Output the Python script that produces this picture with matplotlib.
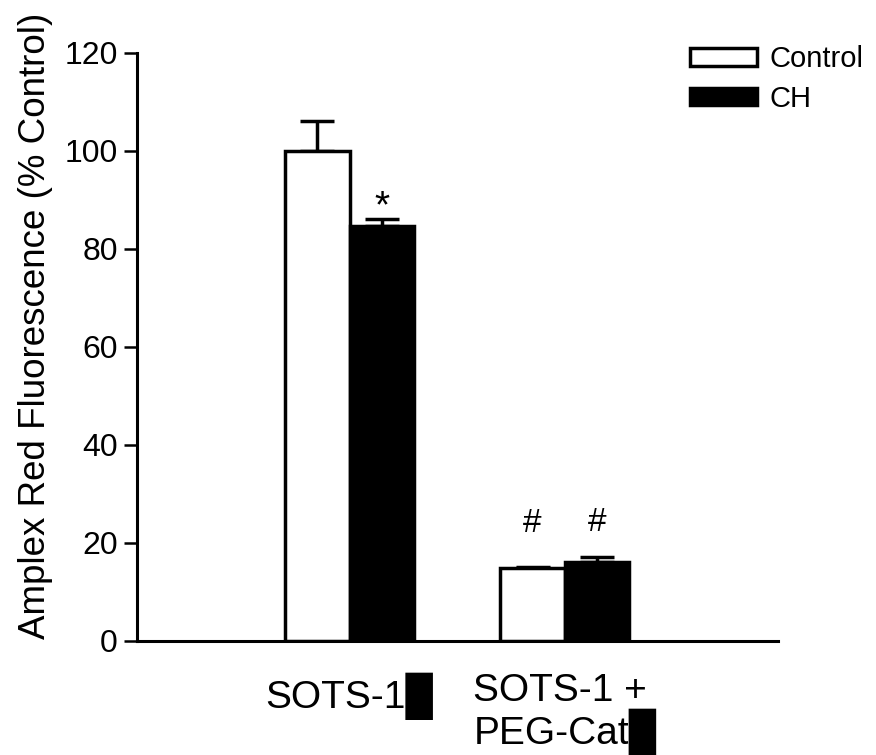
import numpy as np
import matplotlib.pyplot as plt
from matplotlib.patches import Patch

plt.rcParams['font.family'] = ['Liberation Sans', 'DejaVu Sans']

# data
groups = ['SOTS-1\u2588', 'SOTS-1 +\nPEG-Cat\u2588']
control_mean = [100.0, 14.8]
control_err = [6.0, 0.3]
ch_mean = [84.6, 16.1]
ch_err = [1.6, 1.0]
series_names = ['Control', 'CH']

x = np.arange(len(groups))
w = 0.3

fig = plt.figure(figsize=(8.76, 7.55), dpi=100)
ax = fig.add_axes([0.156, 0.151, 0.732, 0.779])

ax.bar(x - w / 2, control_mean, w, color='white', edgecolor='black', linewidth=2.5, zorder=2)
ax.bar(x + w / 2, ch_mean, w, color='black', edgecolor='black', linewidth=2.5, zorder=2)
ax.errorbar(x - w / 2, control_mean, yerr=[np.zeros(2), control_err], fmt='none',
            ecolor='black', elinewidth=2.5, capsize=12, capthick=2.5, zorder=1)
ax.errorbar(x + w / 2, ch_mean, yerr=[np.zeros(2), ch_err], fmt='none',
            ecolor='black', elinewidth=2.5, capsize=12, capthick=2.5, zorder=1)

# significance marks
ax.text(x[0] + w / 2, 86.5, '*', ha='center', va='baseline', fontsize=28)
ax.text(x[1] - w / 2, 22.2, '#', ha='center', va='baseline', fontsize=24)
ax.text(x[1] + w / 2, 22.4, '#', ha='center', va='baseline', fontsize=24)

ax.set_xlim(-0.99, 1.99)
ax.set_ylim(0, 120)
ax.set_yticks(np.arange(0, 121, 20))
ax.set_xticks(x)
ax.set_xticklabels(groups, fontsize=28, linespacing=1.0, multialignment='left')
ax.tick_params(axis='x', length=0, pad=23)
ax.tick_params(axis='y', labelsize=23, length=9.5, width=1.8, pad=4)
ax.set_ylabel('Amplex Red Fluorescence (% Control)', fontsize=26.5)
ax.yaxis.set_label_coords(-0.13, 0.535)

for s in ['top', 'right']:
    ax.spines[s].set_visible(False)
for s in ['left', 'bottom']:
    ax.spines[s].set_linewidth(2.2)

handles = [Patch(facecolor='white', edgecolor='black', linewidth=2.5),
           Patch(facecolor='black', edgecolor='black', linewidth=2.5)]
fig.legend(handles, series_names, loc='upper left', bbox_to_anchor=(0.788, 0.94),
           frameon=False, fontsize=21, handlelength=2.3, handleheight=0.55,
           handletextpad=0.4, labelspacing=0.4, borderpad=0, borderaxespad=0)

fig.savefig('out.png', dpi=100)
